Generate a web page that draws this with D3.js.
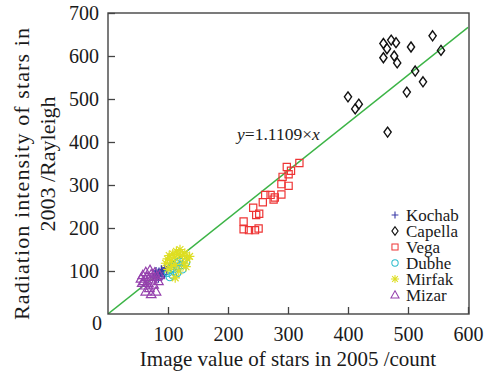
<!DOCTYPE html>
<html>
<head>
<meta charset="utf-8">
<script src="https://cdn.jsdelivr.net/npm/d3@7"></script>
<style>
  body { margin: 0; background: #fff; }
  svg { display: block; }
  text { font-family: "Liberation Serif", "Times New Roman", serif; fill: #1a1a1a; }
</style>
</head>
<body>
<svg id="chart" width="490" height="374"></svg>
<script>
// ticks
var xTicks = [100, 200, 300, 400, 500, 600];
var yTicks = [100, 200, 300, 400, 500, 600, 700];
var slope = 1.1109;

// star measurements [image value 2005, radiation 2003]
var kochab = [[76,86],[79,94],[82,90],[85,99],[87,95],[89,104],[92,100],[95,107],[98,103],[101,110],[84,82],[90,88],[80,100],[94,92]];
var capella = [[459,629],[472,637],[480,631],[465,617],[459,596],[477,600],[482,584],[505,621],[541,647],[555,613],[512,565],[525,540],[498,516],[466,423],[400,505],[418,488],[412,477]];
var vega = [[319,351],[298,342],[305,333],[301,325],[291,319],[289,302],[301,298],[289,278],[262,277],[271,277],[278,271],[276,266],[258,260],[242,247],[252,233],[247,230],[226,215],[226,197],[235,195],[245,195],[251,199]];
var dubhe = [[100,96],[104,104],[107,112],[110,100],[113,118],[116,108],[119,122],[122,114],[126,126],[130,120],[108,90],[115,95],[124,104],[103,86]];
var mirfak = [[96,118],[99,128],[102,136],[105,124],[108,140],[111,132],[114,146],[117,138],[120,150],[124,136],[128,142],[132,128],[136,134],[106,110],[112,115],[118,100],[112,84],[126,118],[100,104],[130,110]];
var mizar = [[55,82],[58,90],[60,76],[63,97],[65,86],[67,72],[70,102],[72,92],[74,80],[76,68],[78,96],[81,86],[84,76],[63,52],[72,46],[80,52],[62,66],[86,90],[69,60],[57,72]];

var seriesNames = ["Kochab", "Capella", "Vega", "Dubhe", "Mirfak", "Mizar"];
var seriesData = [kochab, capella, vega, dubhe, mirfak, mizar];
var seriesColors = ["#3a3aa8", "#111111", "#ee3535", "#2cbccc", "#dede22", "#9540ad"];
var seriesShapes = ["plus", "diamond", "square", "circle", "star", "triangle"];

var svg = d3.select("#chart");
var pLeft = 108, pRight = 469, pTop = 13, pBottom = 314;

var x = d3.scaleLinear().domain([0, 600]).range([pLeft, pRight - 1]);
var y = d3.scaleLinear().domain([0, 700]).range([pBottom, pTop]);

function marker(g, shape, color) {
  var p = g.append("path").attr("stroke", color).attr("fill", "none").attr("stroke-width", 1.2);
  if (shape === "plus") p.attr("d", "M-4,0H4M0,-4V4").attr("stroke-width", 1.3);
  else if (shape === "diamond") p.attr("d", "M0,-5L3.6,0L0,5L-3.6,0Z").attr("stroke-width", 1.4);
  else if (shape === "square") p.attr("d", "M-3.6,-3.6H3.6V3.6H-3.6Z");
  else if (shape === "circle") p.attr("d", d3.symbol(d3.symbolCircle, 44)());
  else if (shape === "star") p.attr("d", "M-4.8,0H4.8M0,-4.8V4.8M-3.4,-3.4L3.4,3.4M-3.4,3.4L3.4,-3.4");
  else if (shape === "triangle") p.attr("d", "M0,-5L4.8,3.4L-4.8,3.4Z");
}

// fit line
svg.append("clipPath").attr("id", "clip")
  .append("rect").attr("x", pLeft).attr("y", pTop).attr("width", pRight - pLeft).attr("height", pBottom - pTop);
svg.append("line")
  .attr("clip-path", "url(#clip)")
  .attr("x1", x(0)).attr("y1", y(0))
  .attr("x2", x(600)).attr("y2", y(600 * slope))
  .attr("stroke", "#3cb446").attr("stroke-width", 1.4);

// points
seriesData.forEach(function(data, i) {
  svg.append("g").selectAll("g")
    .data(data).enter().append("g")
    .attr("transform", function(d) { return "translate(" + x(d[0]) + "," + y(d[1]) + ")"; })
    .each(function() { marker(d3.select(this), seriesShapes[i], seriesColors[i]); });
});

// frame
svg.append("rect").attr("x", pLeft).attr("y", pTop)
  .attr("width", pRight - pLeft).attr("height", pBottom - pTop)
  .attr("fill", "none").attr("stroke", "#444").attr("stroke-width", 1.4);

// axes, ticks point inwards
var xAxis = d3.axisBottom(x).tickValues(xTicks).tickSize(-7).tickPadding(13).tickFormat(d3.format("d"));
var yAxis = d3.axisLeft(y).tickValues(yTicks).tickSize(-7).tickPadding(9).tickFormat(d3.format("d"));

var gx = svg.append("g").attr("transform", "translate(0," + pBottom + ")").call(xAxis);
var gy = svg.append("g").attr("transform", "translate(" + pLeft + ",0)").call(yAxis);
[gx, gy].forEach(function(g) {
  g.select(".domain").remove();
  g.selectAll(".tick line").attr("stroke", "#444").attr("stroke-width", 1.3);
  g.selectAll(".tick text").attr("font-size", 20).attr("fill", "#1a1a1a")
    .style("font-family", "'Liberation Serif', serif");
});

svg.append("text").attr("x", 97).attr("y", 330).attr("text-anchor", "middle")
  .attr("font-size", 20).text("0");

// axis titles
svg.append("text").attr("x", 288).attr("y", 366).attr("text-anchor", "middle")
  .attr("font-size", 21).text("Image value of stars in 2005 /count");

svg.append("text").attr("transform", "translate(29,174) rotate(-90)")
  .attr("text-anchor", "middle").attr("font-size", 22)
  .attr("textLength", 292).attr("lengthAdjust", "spacing")
  .text("Radiation intensity of stars in");
svg.append("text").attr("transform", "translate(55,164) rotate(-90)")
  .attr("text-anchor", "middle").attr("font-size", 22).text("2003 /Rayleigh");

// equation
var eq = svg.append("text").attr("x", 237).attr("y", 140).attr("font-size", 17.5);
eq.append("tspan").attr("font-style", "italic").text("y");
eq.append("tspan").text("=1.1109\u00d7");
eq.append("tspan").attr("font-style", "italic").text("x");

// legend
var legend = svg.append("g");
seriesNames.forEach(function(name, i) {
  var ly = 215 + i * 16;
  var g = legend.append("g").attr("transform", "translate(395," + ly + ") scale(0.85)");
  marker(g, seriesShapes[i], seriesColors[i]);
  legend.append("text").attr("x", 406).attr("y", ly + 5.5).attr("font-size", 17).text(name);
});
</script>
</body>
</html>
